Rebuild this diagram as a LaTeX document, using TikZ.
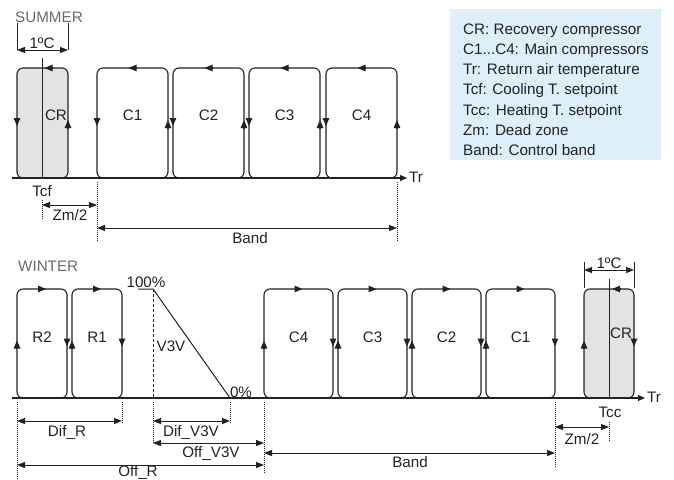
\documentclass[tikz,border=0pt]{standalone}
\usepackage{fontspec}
\setmainfont{Liberation Sans}
\usetikzlibrary{positioning, arrows.meta}
\definecolor{darkline}{HTML}{222222}
\definecolor{titlegray}{HTML}{6A6A6A}
\definecolor{crgray}{HTML}{E3E3E3}
\definecolor{legendblue}{HTML}{DDEFFB}

\tikzset{
  compbox/.style={draw=darkline, line width=1.1pt, rounded corners=6pt, outer sep=0pt,
                  inner sep=0pt, anchor=south west},
  looparrow/.style={draw=darkline, line width=1.1pt, -{Triangle[length=8pt, width=6.5pt]}},
  dimline/.style={draw=darkline, line width=1pt,
                  {Triangle[length=8pt, width=6pt]}-{Triangle[length=8pt, width=6pt]}},
  guideline/.style={draw=darkline, line width=0.7pt, dash pattern=on 1pt off 1pt},
  thinline/.style={draw=darkline, line width=1pt},
  axisline/.style={draw=darkline, line width=1.1pt, -{Triangle[length=7pt, width=6pt]}},
  lbl/.style={anchor=base, inner sep=0pt, text=darkline},
}

\begin{document}
\begin{tikzpicture}[x=1pt, y=-1pt, font=\fontsize{15.2}{18}\selectfont]
  \useasboundingbox (0,0) rectangle (674,479);

  % legend
  \node[fill=legendblue, minimum width=211pt, minimum height=151pt, anchor=north west,
        inner sep=0pt] (legend) at (450,9) {};
  \node[lbl, anchor=base west] (leg1) at (463,34) {CR: Recovery compressor};
  \node[lbl, anchor=base west] (leg2) at (463,54.3) {C1...C4: Main compressors};
  \node[lbl, anchor=base west] (leg3) at (463,74.6) {Tr: Return air temperature};
  \node[lbl, anchor=base west] (leg4) at (463,94.9) {Tcf: Cooling T. setpoint};
  \node[lbl, anchor=base west] (leg5) at (463,115.2) {Tcc: Heating T. setpoint};
  \node[lbl, anchor=base west] (leg6) at (463,135.5) {Zm: Dead zone};
  \node[lbl, anchor=base west] (leg7) at (463,155.8) {Band: Control band};

  % summer
  \node[lbl, anchor=base west, text=titlegray] (summer) at (15,22) {SUMMER};
  \node[compbox, fill=crgray, minimum width=51pt, minimum height=110pt] (crs) at (17,178) {};
  \foreach \n/\x in {1/97, 2/173, 3/249, 4/326}
    \node[compbox, minimum width=71pt, minimum height=110pt] (cs\n) at (\x,178) {};

  \coordinate (tcftop) at (42,58);
  \draw[thinline] (tcftop) -- (tcftop |- crs.south);

  \node[lbl] (crsl) at (56,120.5) {CR};
  \foreach \n in {1,...,4}
    \node[lbl] (csl\n) at (cs\n.center |- 0,120.5) {C\n};

  \draw[looparrow] ([xshift=10pt]crs.north) -- ([xshift=2pt]crs.north);
  \foreach \b in {crs, cs1, cs2, cs3, cs4} {
    \draw[looparrow] ([yshift=5pt]\b.west) -- ([yshift=-3pt]\b.west);
    \draw[looparrow] ([yshift=-5pt]\b.east) -- ([yshift=3pt]\b.east);
  }
  \foreach \b in {cs1, cs2, cs3, cs4}
    \draw[looparrow] ([xshift=4pt]\b.north) -- ([xshift=-4pt]\b.north);

  % 1 degree, summer
  \draw[thinline] (crs.north west |- 0,23) -- (crs.north west |- 0,50);
  \draw[thinline] (crs.north east |- 0,23) -- (crs.north east |- 0,50);
  \draw[dimline] (crs.north west |- 0,50) -- (crs.north east |- 0,50);
  \node[lbl] (degs) at (42,48.5) {1ºC};

  \node[anchor=west, inner xsep=2pt, inner ysep=0pt, text=darkline] (trs) at (407,177) {Tr};
  \coordinate (axs) at (12,178);
  \draw[axisline] (axs) -- (trs.west |- axs);

  \node[lbl] (tcf) at (42,196.5) {Tcf};
  \draw[guideline] (tcf.south |- 0,200) -- (tcf.south |- 0,220);
  \draw[guideline] (cs1.south west |- 0,182) -- (cs1.south west |- 0,242);
  \draw[guideline] (cs4.south east |- 0,182) -- (cs4.south east |- 0,242);
  \draw[dimline] (tcf.south |- 0,205) -- (cs1.south west |- 0,205);
  \node[lbl] (zms) at (70,220.5) {Zm/2};
  \draw[dimline] (cs1.south west |- 0,228) -- (cs4.south east |- 0,228);
  \node[lbl] (bands) at (250,243) {Band};

  % winter
  \node[lbl, anchor=base west, text=titlegray] (winter) at (18,271) {WINTER};
  \node[compbox, minimum width=50pt, minimum height=109pt] (r2) at (17,398) {};
  \node[compbox, minimum width=50pt, minimum height=109pt] (r1) at (72,398) {};
  \foreach \n/\x in {4/264, 3/338, 2/412, 1/486}
    \node[compbox, minimum width=69pt, minimum height=109pt] (cw\n) at (\x,398) {};
  \node[compbox, fill=crgray, minimum width=50pt, minimum height=109pt] (crw) at (584,398) {};

  \coordinate (tcctop) at (609,279);
  \draw[thinline] (tcctop) -- (tcctop |- crw.south);

  \node[lbl] (r2l) at (r2.center |- 0,342) {R2};
  \node[lbl] (r1l) at (r1.center |- 0,342) {R1};
  \foreach \n in {1,...,4}
    \node[lbl] (cwl\n) at (cw\n.center |- 0,342) {C\n};
  \node[lbl] (crwl) at (621,338.5) {CR};

  \foreach \b in {r2, r1, cw4, cw3, cw2, cw1, crw} {
    \draw[looparrow] ([yshift=-5pt]\b.west) -- ([yshift=3pt]\b.west);
    \draw[looparrow] ([yshift=5pt]\b.east) -- ([yshift=-3pt]\b.east);
  }
  \foreach \b in {r2, r1, cw4, cw3, cw2, cw1}
    \draw[looparrow] ([xshift=-4pt]\b.north) -- ([xshift=4pt]\b.north);
  \draw[looparrow] ([xshift=11pt]crw.north) -- ([xshift=3pt]crw.north);

  % 1 degree, winter
  \draw[thinline] (crw.north west |- 0,262) -- (crw.north west |- 0,288);
  \draw[thinline] (crw.north east |- 0,262) -- (crw.north east |- 0,288);
  \draw[dimline] (crw.north west |- 0,270) -- (crw.north east |- 0,270);
  \node[lbl] (degw) at (609,268.5) {1ºC};

  % valve ramp
  \coordinate (v3vtop) at (153,289);
  \coordinate (v3vbot) at (230,398);
  \draw[thinline] (138,289) -- (v3vtop) -- (v3vbot);
  \draw[darkline, line width=0.8pt, dash pattern=on 3pt off 2pt] (v3vtop) -- (v3vtop |- 0,398);
  \node[lbl] (full) at (146,287) {100\%};
  \node[lbl] (zero) at (241,397) {0\%};
  \node[lbl] (v3v) at (171,351) {V3V};

  \node[anchor=west, inner xsep=2pt, inner ysep=0pt, text=darkline] (trw) at (645,397) {Tr};
  \coordinate (axw) at (12,398);
  \draw[axisline] (axw) -- (trw.west |- axw);

  \node[lbl] (tcc) at (610,417) {Tcc};

  \draw[guideline] (r2.south west |- 0,402) -- (r2.south west |- 0,479);
  \draw[guideline] (r1.south east |- 0,402) -- (r1.south east |- 0,423);
  \draw[guideline] (v3vtop |- 0,402) -- (v3vtop |- 0,443);
  \draw[guideline] (v3vbot |- 0,402) -- (v3vbot |- 0,423);
  \draw[guideline] (cw4.south west |- 0,402) -- (cw4.south west |- 0,473);
  \draw[guideline] (cw1.south east |- 0,402) -- (cw1.south east |- 0,467);
  \draw[guideline] (tcctop |- 0,422) -- (tcctop |- 0,442);

  \draw[dimline] (r2.south west |- 0,421) -- (r1.south east |- 0,421);
  \node[lbl] (difr) at (67,436) {Dif\_R};
  \draw[dimline] (v3vtop |- 0,421) -- (v3vbot |- 0,421);
  \node[lbl] (difv) at (191,436) {Dif\_V3V};
  \draw[dimline] (v3vtop |- 0,443) -- (cw4.south west |- 0,443);
  \node[lbl] (offv) at (211,457) {Off\_V3V};
  \draw[dimline] (r2.south west |- 0,465) -- (cw4.south west |- 0,465);
  \node[lbl] (offr) at (138,476) {Off\_R};
  \draw[dimline] (cw4.south west |- 0,453) -- (cw1.south east |- 0,453);
  \node[lbl] (bandw) at (410,467) {Band};
  \draw[dimline] (cw1.south east |- 0,427) -- (tcctop |- 0,427);
  \node[lbl] (zmw) at (582,444) {Zm/2};
\end{tikzpicture}
\end{document}
